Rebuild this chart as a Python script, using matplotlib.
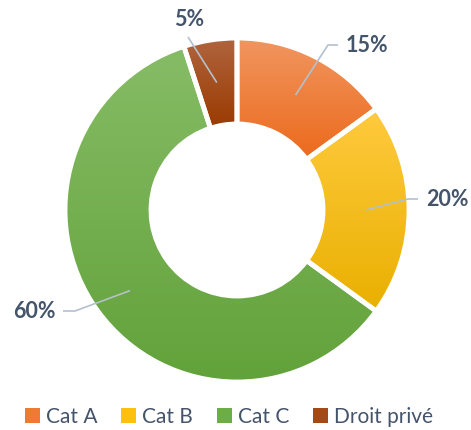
"""
Donut chart of shares by category, with leader-line labels and a bottom legend.
"""

import matplotlib.pyplot as plt
import numpy as np
from matplotlib.colors import LinearSegmentedColormap
from matplotlib.patches import Patch

plt.switch_backend("Agg")

categories = ["Cat A", "Cat B", "Cat C", "Droit privé"]
shares = [15, 20, 60, 5]
value_labels = ["15%", "20%", "60%", "5%"]

# gradient ends per slice (top -> bottom)
top_colors = ["#F19660", "#FFCA3E", "#86BC66", "#B0653F"]
bottom_colors = ["#EC6A1C", "#E9B000", "#62A23A", "#9A3A00"]
legend_colors = ["#EF7A33", "#FDC00F", "#6CAD46", "#A44A16"]

# label layout in pixels (x, y from bottom): elbow point, end of leader, text anchor
label_elbow = [(328, 385), (408, 231), (75, 119), (188, 393)]
label_end = [(338, 385), (418, 231), (63, 119), (188, 393)]
label_text = [(346, 385), (426, 231), (56, 119), (189, 410)]
label_ha = ["left", "left", "right", "center"]
anchor_angle_override = {2: -143.0}

TEXT_COLOR = "#44546A"
LEADER_COLOR = "#B4C0CC"
FONT = ["Lato", "DejaVu Sans"]

W, H = 471, 430
center = (237, 220)
radius = 172
ring = 86

fig = plt.figure(figsize=(W / 100, H / 100), dpi=100)
ax = fig.add_axes([0, 0, 1, 1])

wedges, _ = ax.pie(
    shares,
    radius=radius,
    center=center,
    startangle=90,
    counterclock=False,
    wedgeprops=dict(width=ring, edgecolor="white", linewidth=3.5, facecolor="none"),
)

grad = np.linspace(0, 1, 256).reshape(-1, 1)
for w, c_top, c_bot in zip(wedges, top_colors, bottom_colors):
    w.set_zorder(3)
    ext = w.get_path().get_extents()
    cmap = LinearSegmentedColormap.from_list("g", [c_bot, c_top])
    img = ax.imshow(
        grad,
        cmap=cmap,
        extent=(ext.x0, ext.x1, ext.y0, ext.y1),
        origin="lower",
        aspect="auto",
        interpolation="bicubic",
        zorder=2,
    )
    img.set_clip_path(w)

r_mid = radius - ring / 2
for i, w in enumerate(wedges):
    ang = anchor_angle_override.get(i, (w.theta1 + w.theta2) / 2)
    r = 134 if i in anchor_angle_override else r_mid
    ax_x = center[0] + r * np.cos(np.radians(ang))
    ax_y = center[1] + r * np.sin(np.radians(ang))
    xs = [ax_x, label_elbow[i][0], label_end[i][0]]
    ys = [ax_y, label_elbow[i][1], label_end[i][1]]
    ax.plot(xs, ys, color=LEADER_COLOR, lw=1.2, zorder=4, solid_capstyle="butt")
    ax.text(
        label_text[i][0], label_text[i][1], value_labels[i],
        ha=label_ha[i], va="center", fontsize=15.5, fontweight="bold",
        color=TEXT_COLOR, family=FONT, zorder=5,
    )

handles = [Patch(facecolor=c, edgecolor="none", label=n) for c, n in zip(legend_colors, categories)]
leg = fig.legend(
    handles=handles,
    loc="center",
    bbox_to_anchor=(229 / W, 13 / H),
    ncol=4,
    frameon=False,
    handlelength=0.7,
    handleheight=0.7,
    handletextpad=0.3,
    columnspacing=1.15,
    labelcolor=TEXT_COLOR,
    prop={"family": FONT, "size": 15},
)

ax.set_xlim(0, W)
ax.set_ylim(0, H)
ax.set_aspect("equal")
ax.axis("off")

fig.savefig("out.png", dpi=100)
plt.close(fig)
